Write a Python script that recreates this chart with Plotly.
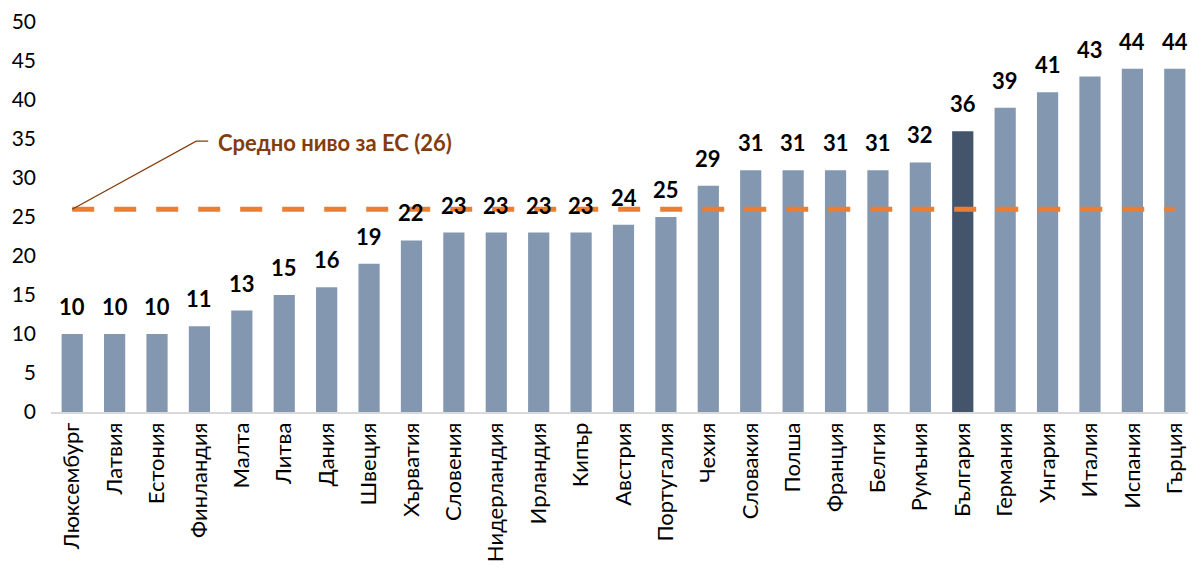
import plotly.graph_objects as go

# Data
countries = ["Люксембург", "Латвия", "Естония", "Финландия", "Малта", "Литва", "Дания",
             "Швеция", "Хърватия", "Словения", "Нидерландия", "Ирландия", "Кипър", "Австрия",
             "Португалия", "Чехия", "Словакия", "Полша", "Франция", "Белгия", "Румъния",
             "България", "Германия", "Унгария", "Италия", "Испания", "Гърция"]
values = [10, 10, 10, 11, 13, 15, 16, 19, 22, 23, 23, 23, 23, 24, 25, 29, 31, 31, 31, 31, 32,
          36, 39, 41, 43, 44, 44]
eu_average = 26
highlight = "България"

bar_colors = ['#44546A' if c == highlight else '#8497B0' for c in countries]
font_family = "Lato, Open Sans, sans-serif"

fig = go.Figure()

fig.add_trace(go.Bar(
    x=countries,
    y=values,
    marker=dict(color=bar_colors, line=dict(width=0)),
    showlegend=False,
    hoverinfo='x+y'
))

# EU average dashed line
fig.add_trace(go.Scatter(
    x=countries,
    y=[eu_average] * len(countries),
    mode='lines',
    line=dict(color='#ED7D31', width=5, dash='22px,20px'),
    showlegend=False,
    hoverinfo='skip'
))

# value labels above the bars
for c, v in zip(countries, values):
    fig.add_annotation(
        x=c, y=v, text=f"<b>{v}</b>", showarrow=False,
        xanchor='center', yanchor='bottom', yshift=12,
        font=dict(size=22, color='black', family=font_family)
    )

# leader line for the label
fig.add_shape(
    type='path',
    xref='x', yref='y',
    xsizemode='pixel', ysizemode='pixel',
    xanchor=countries[0], yanchor=eu_average,
    path='M0,0 L124,68 L136,68',
    line=dict(color='#843C0C', width=1.3)
)

fig.add_annotation(
    x=countries[0], y=eu_average,
    text=f"<b>Средно ниво за ЕС ({eu_average})</b>",
    showarrow=False,
    xanchor='left', yanchor='middle',
    xshift=144, yshift=67,
    font=dict(size=22, color='#843C0C', family=font_family)
)

# page body adds an 8px offset, so the figure is a little smaller
fig.update_layout(
    width=1188, height=561,
    margin=dict(l=43, r=0, t=14, b=157, autoexpand=False),
    plot_bgcolor='white',
    paper_bgcolor='white',
    bargap=0.5,
    font=dict(family=font_family, color='black')
)

fig.update_xaxes(
    tickangle=-90,
    tickfont=dict(size=22, color='black'),
    showline=True, linecolor='#D9D9D9', linewidth=1.5,
    showgrid=False, ticks='', automargin=False
)
fig.update_yaxes(
    range=[0, 50],
    dtick=5,
    tickfont=dict(size=21, color='black'),
    showgrid=False, zeroline=False, showline=False,
    ticklabelstandoff=14, automargin=False,
    ticklabeloverflow='allow'
)

fig.write_html("out.html")
